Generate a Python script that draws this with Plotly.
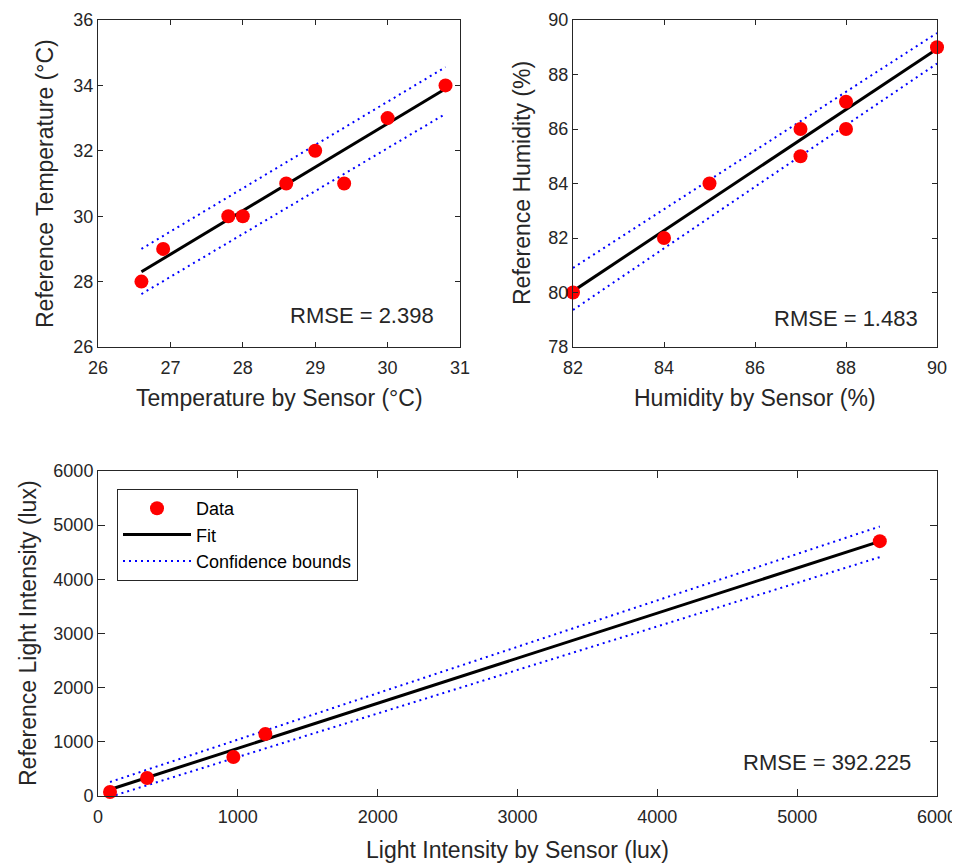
import plotly.graph_objects as go

# ---- Data ----
temp_sensor = [26.6, 26.9, 27.8, 28.0, 28.6, 29.0, 29.4, 30.0, 30.8]
temp_ref = [28, 29, 30, 30, 31, 32, 31, 33, 34]
temp_fit_x = [26.6, 30.8]
temp_fit_y = [28.3, 33.9]
temp_upper = [29.0, 34.56]
temp_lower = [27.62, 33.13]

hum_sensor = [82, 84, 85, 87, 87, 88, 88, 90]
hum_ref = [80, 82, 84, 86, 85, 87, 86, 89]
hum_fit_x = [82, 90]
hum_fit_y = [80.05, 88.94]
hum_upper = [80.9, 89.52]
hum_lower = [79.36, 88.4]

lux_sensor = [86, 351, 968, 1197, 5591]
lux_ref = [74, 332, 720, 1144, 4705]
lux_fit_x = [86, 5591]
lux_fit_y = [120, 4700]
lux_upper = [258, 4975]
lux_lower = [-15, 4410]

rmse_labels = ["RMSE = 2.398", "RMSE = 1.483", "RMSE = 392.225"]

# page body has an 8px margin: figure occupies screen pixels 8..960, 8..863
OFF = 8
W, H = 960 - OFF, 863 - OFF
TXT = "#262626"
FONT = "Liberation Sans, Arial, sans-serif"
DOT = "2px,4px"
LABEL = 23

def px(x):
    return (x - OFF) / W

def py(y):
    return 1 - (y - OFF) / H

fig = go.Figure()

panels = [
    ("x", "y", temp_sensor, temp_ref, temp_fit_x, temp_fit_y, temp_upper, temp_lower),
    ("x2", "y2", hum_sensor, hum_ref, hum_fit_x, hum_fit_y, hum_upper, hum_lower),
    ("x3", "y3", lux_sensor, lux_ref, lux_fit_x, lux_fit_y, lux_upper, lux_lower),
]

for i, (xa, ya, xs, ys, fx, fy, up, lo) in enumerate(panels):
    show = (i == 2)
    fig.add_trace(go.Scatter(x=fx, y=up, xaxis=xa, yaxis=ya, mode="lines",
                             line=dict(color="#0000ff", width=2, dash=DOT),
                             name="Confidence bounds", showlegend=show, legendrank=3))
    fig.add_trace(go.Scatter(x=fx, y=lo, xaxis=xa, yaxis=ya, mode="lines",
                             line=dict(color="#0000ff", width=2, dash=DOT),
                             showlegend=False))
    fig.add_trace(go.Scatter(x=fx, y=fy, xaxis=xa, yaxis=ya, mode="lines",
                             line=dict(color="black", width=3),
                             name="Fit", showlegend=show, legendrank=2))
    fig.add_trace(go.Scatter(x=xs, y=ys, xaxis=xa, yaxis=ya, mode="markers",
                             marker=dict(color="#ff0000", size=14),
                             name="Data", showlegend=show, legendrank=1,
                             cliponaxis=False))

axis_common = dict(showgrid=False, zeroline=False, showline=True, linecolor=TXT,
                   linewidth=1, mirror="ticks", ticks="inside", tickcolor=TXT,
                   ticklen=5, tickwidth=1, automargin=False,
                   tickfont=dict(size=18, color=TXT, family=FONT))
xextra = dict(ticklabelstandoff=4)

fig.update_layout(
    width=W, height=H, margin=dict(l=0, r=0, t=0, b=0, autoexpand=False),
    paper_bgcolor="white", plot_bgcolor="white",
    font=dict(family=FONT, color=TXT),
    xaxis=dict(axis_common, **xextra, domain=[px(98), px(460)], range=[26, 31], dtick=1, anchor="y"),
    yaxis=dict(axis_common, domain=[py(347), py(20)], range=[26, 36], dtick=2, anchor="x"),
    xaxis2=dict(axis_common, **xextra, domain=[px(573), px(937)], range=[82, 90], dtick=2, anchor="y2"),
    yaxis2=dict(axis_common, domain=[py(347), py(20)], range=[78, 90], dtick=2, anchor="x2"),
    xaxis3=dict(axis_common, **xextra, domain=[px(98), px(937)], range=[0, 6000], dtick=1000,
                anchor="y3", ticklen=7),
    yaxis3=dict(axis_common, domain=[py(796), py(471)], range=[0, 6000], dtick=1000,
                anchor="x3", ticklen=7),
    legend=dict(x=px(117), y=py(489), xanchor="left", yanchor="top",
                bordercolor=TXT, borderwidth=1, bgcolor="white",
                font=dict(size=18, color="black", family=FONT),
                tracegroupgap=0, itemwidth=68),
    showlegend=True,
)

annots = [
    dict(text=rmse_labels[0], x=px(436), y=py(316), xanchor="right", yanchor="middle", size=22, angle=0),
    dict(text=rmse_labels[1], x=px(920), y=py(318), xanchor="right", yanchor="middle", size=22, angle=0),
    dict(text=rmse_labels[2], x=px(913), y=py(762), xanchor="right", yanchor="middle", size=22, angle=0),
    dict(text="Temperature by Sensor (°C)", x=px(279), y=py(398), xanchor="center", yanchor="middle", size=LABEL, angle=0),
    dict(text="Humidity by Sensor (%)", x=px(755), y=py(398), xanchor="center", yanchor="middle", size=LABEL, angle=0),
    dict(text="Light Intensity by Sensor (lux)", x=px(517), y=py(850), xanchor="center", yanchor="middle", size=LABEL, angle=0),
    dict(text="Reference Temperature (°C)", x=px(45), y=py(184), xanchor="center", yanchor="middle", size=LABEL, angle=-90),
    dict(text="Reference Humidity (%)", x=px(522), y=py(183), xanchor="center", yanchor="middle", size=LABEL, angle=-90),
    dict(text="Reference Light Intensity (lux)", x=px(28), y=py(633), xanchor="center", yanchor="middle", size=LABEL, angle=-90),
]
for a in annots:
    fig.add_annotation(text=a["text"], xref="paper", yref="paper", x=a["x"], y=a["y"],
                       xanchor=a["xanchor"], yanchor=a["yanchor"], textangle=a["angle"],
                       showarrow=False, font=dict(size=a["size"], color=TXT, family=FONT))

fig.write_html("out.html")
